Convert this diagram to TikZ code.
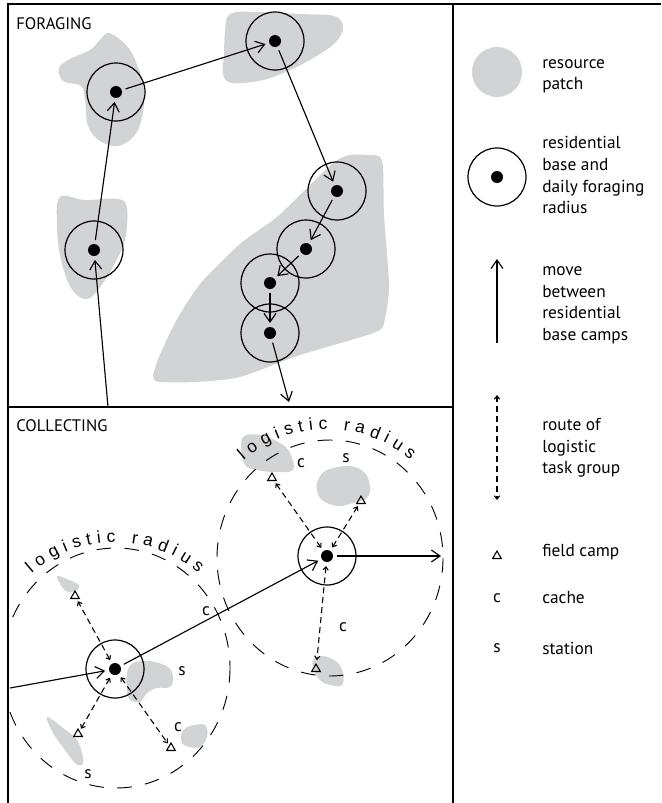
\documentclass[tikz,border=0pt]{standalone}
\usepackage{fontspec}
\setmainfont{PT Sans}
\newfontfamily\lrfont{Liberation Sans}
\usetikzlibrary{arrows.meta,shapes.geometric,decorations.text}
\definecolor{patchgray}{RGB}{209,211,212}
\begin{document}
\begin{tikzpicture}[x=0.75pt,y=-0.75pt,
  frameline/.style={line width=1.1pt},
  patch/.style={fill=patchgray, draw=none},
  base/.style={circle, draw, line width=0.9pt, minimum size=43.5pt, inner sep=0pt},
  dot/.style={circle, fill=black, minimum size=9pt, inner sep=0pt, outer sep=3pt},
  move/.style={line width=0.85pt, -{Straight Barb[length=6.5pt,width=9pt]}},
  route/.style={line width=0.8pt, dash pattern=on 4.5pt off 3pt,
    {Straight Barb[length=2.5pt,width=4pt]}-{Straight Barb[length=2.5pt,width=4pt]}},
  logdash/.style={line width=0.7pt, dash pattern=on 11pt off 10pt},
  tri/.style={regular polygon, regular polygon sides=3, draw, line width=0.8pt,
    minimum size=7.5pt, inner sep=0pt, outer sep=2pt},
  txt/.style={anchor=base west, inner sep=0pt, font=\fontsize{13}{15}\selectfont},
  lbl/.style={inner sep=0pt, font=\fontsize{13}{15}\selectfont},
  logtext/.style={decorate, decoration={text along path, text align={fit to path},
    text={|\lrfont\fontsize{13}{13}\selectfont|logistic radius}}}
]
\useasboundingbox (0,0) rectangle (661,803);

% ---------- resource patches (foraging) ----------
\fill[patch] plot[smooth cycle, tension=0.6] coordinates {(100,40) (109,33) (126,45) (136,62) (144,90) (142,118) (134,136) (118,146) (100,141) (88,126) (85,100) (81,86) (63,81) (59,68) (70,59) (90,50)};
\fill[patch] plot[smooth cycle, tension=0.6] coordinates {(230,14) (260,12) (300,14) (334,16) (343,27) (336,42) (315,57) (290,70) (263,80) (232,83) (223,74) (224,55) (225,33)};
\fill[patch] plot[smooth cycle, tension=0.6] coordinates {(60,197) (85,200) (118,199) (127,208) (125,240) (115,263) (103,283) (90,298) (78,296) (68,282) (60,255) (57,225)};
\fill[patch] plot[smooth cycle, tension=0.4] coordinates {(153,377) (159,357) (176,321) (200,284) (240,244) (277,217) (305,190) (333,163) (350,155) (378,156) (383,167) (384,215) (389,285) (385,318) (376,332) (300,355) (240,377) (195,382) (160,382)};

% ---------- resource patches (collecting) ----------
\fill[patch] plot[smooth cycle, tension=0.6] coordinates {(57,576) (69,580) (79,585) (77,590) (68,592) (62,587)};
\fill[patch] plot[smooth cycle, tension=0.6] coordinates {(133,663) (150,661) (168,667) (173,677) (170,687) (157,688) (147,693) (140,702) (130,700) (127,690) (127,673)};
\fill[patch] plot[smooth cycle, tension=0.6] coordinates {(47,717) (63,728) (77,740) (83,757) (82,765) (75,763) (65,750) (53,733)};
\fill[patch] plot[smooth cycle, tension=0.6] coordinates {(182,732) (190,726) (205,725) (207,737) (200,747) (190,747) (182,743)};
\fill[patch] plot[smooth cycle, tension=0.6] coordinates {(243,437) (260,435) (280,443) (290,453) (293,470) (273,472) (257,470) (247,467) (242,457)};
\fill[patch] plot[smooth cycle, tension=0.6] coordinates {(318,480) (327,470) (350,466) (365,473) (370,487) (367,498) (353,503) (337,506) (322,500) (317,490)};
\fill[patch] plot[smooth cycle, tension=0.6] coordinates {(313,660) (323,656) (337,662) (343,673) (342,685) (330,685) (320,680) (314,670)};

% ---------- frame ----------
\draw[frameline] (8,803) -- (8,4) -- (661,4);
\draw[frameline] (453,4) -- (453,803);
\draw[frameline] (8,407) -- (453,407);

% ---------- section titles ----------
\node[txt, font=\fontsize{12.5}{15}\selectfont] (tforage) at (16,29) {FORAGING};
\node[txt, font=\fontsize{12.5}{15}\selectfont] (tcollect) at (16,431) {COLLECTING};

% ---------- foraging camps ----------
\foreach \n/\p in {1/{(116,92)}, 2/{(275,41)}, 3/{(337,191)}, 4/{(306,249)}, 5/{(270,283)}, 6/{(270,333)}, 7/{(94,250)}} {
  \node[base] (b\n) at \p {};
  \node[dot] (d\n) at \p {};
}
\coordinate (fin) at (108,407);
\coordinate (fout) at (289,402);
\draw[move] (fin) -- (d7);
\draw[move] (d7) -- (d1);
\draw[move] (d1) -- (d2);
\draw[move] (d2) -- (d3);
\draw[move] (d3) -- (d4);
\draw[move] (d4) -- (d5);
\draw[move] (d5) -- (d6);
\draw[move] (d6) -- (fout);

% ---------- collecting ----------
\begin{scope}
\clip (8,407) rectangle (453,803);
\draw[logdash] (116,668) ellipse [x radius=114, y radius=120];
\draw[logdash] (330,558) ellipse [x radius=113, y radius=118];
\end{scope}
\path[logtext] (115,669) ++(229:127) arc[start angle=229, end angle=311, radius=127];
\path[logtext] (327,556) ++(229:127) arc[start angle=229, end angle=311, radius=127];

\node[base] (bL) at (115,669) {};
\node[dot] (dL) at (115,669) {};
\node[base] (bR) at (327,556) {};
\node[dot] (dR) at (327,556) {};

\node[tri] (tL1) at (75,596) {};
\node[tri] (tL2) at (78,734) {};
\node[tri] (tL3) at (171,748) {};
\node[tri] (tR1) at (272,478) {};
\node[tri] (tR2) at (361,501) {};
\node[tri] (tR3) at (316,669) {};

\draw[route] (dL) -- (tL1);
\draw[route] (dL) -- (tL2);
\draw[route] (dL) -- (tL3);
\draw[route] (dR) -- (tR1);
\draw[route] (dR) -- (tR2);
\draw[route] (dR) -- (tR3);

\coordinate (cin) at (10,688);
\coordinate (cout) at (441,556);
\draw[move] (cin) -- (dL);
\draw[move] (dL) -- (dR);
\draw[move] (dR) -- (cout);

\node[lbl] (c1) at (206,611) {c};
\node[lbl] (s1) at (182,671) {s};
\node[lbl] (c2) at (178,727) {c};
\node[lbl] (s2) at (88,774) {s};
\node[lbl] (c3) at (301,463) {c};
\node[lbl] (s3) at (346,458) {s};
\node[lbl] (c4) at (343,627) {c};

% ---------- legend ----------
\node[circle, fill=patchgray, minimum size=37.5pt, inner sep=0pt] (kpatch) at (497,72) {};
\node[base] (kbase) at (497,177) {};
\node[dot] (kdot) at (497,177) {};
\coordinate (km1) at (497,343);
\coordinate (km2) at (497,259);
\draw[move] (km1) -- (km2);
\coordinate (kr1) at (497,395);
\coordinate (kr2) at (497,500);
\draw[route] (kr1) -- (kr2);
\node[tri] (ktri) at (497,556) {};
\node[lbl] (kc) at (497,598) {c};
\node[lbl] (ks) at (497,648) {s};

\node[txt] (l1a) at (542,68) {resource};
\node[txt] (l1b) at (542,89) {patch};
\node[txt] (l2a) at (542,148) {residential};
\node[txt] (l2b) at (542,170) {base and};
\node[txt] (l2c) at (542,192) {daily foraging};
\node[txt] (l2d) at (542,213) {radius};
\node[txt] (l3a) at (542,275) {move};
\node[txt] (l3b) at (542,297) {between};
\node[txt] (l3c) at (542,318) {residential};
\node[txt] (l3d) at (542,340) {base camps};
\node[txt] (l4a) at (542,430) {route of};
\node[txt] (l4b) at (542,452) {logistic};
\node[txt] (l4c) at (542,473) {task group};
\node[txt] (l5) at (542,556) {field camp};
\node[txt] (l6) at (542,603) {cache};
\node[txt] (l7) at (542,654) {station};
\end{tikzpicture}
\end{document}
